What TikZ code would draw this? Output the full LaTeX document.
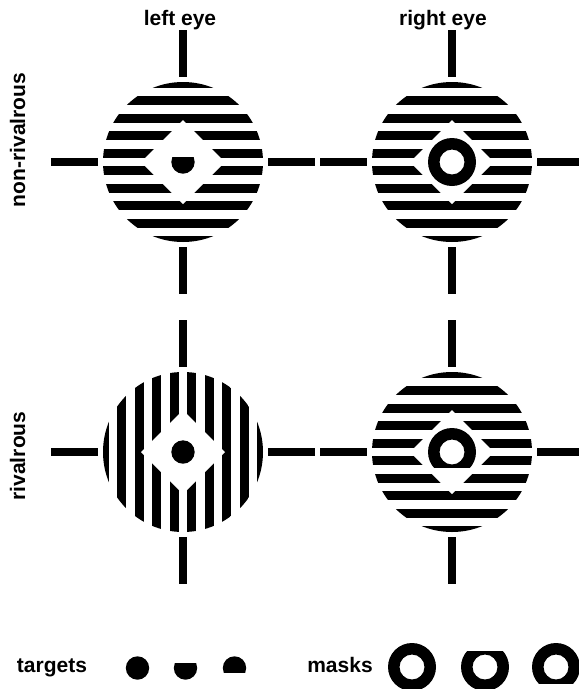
\documentclass[tikz,border=0pt]{standalone}
\usepackage{fontspec}
\setmainfont{Liberation Sans}
\begin{document}
\begin{tikzpicture}[x=1pt, y=1pt,
  lbl/.style={font=\fontsize{21}{25}\selectfont\bfseries, inner sep=0pt, anchor=base},
  pics/grating/.style={code={
    \begin{scope}
      \clip (0,0) circle (80);
      \foreach \k in {-5,...,4}
        \fill[rotate=#1] (-85,{\k*17.5+4.45}) rectangle (85,{\k*17.5+13.05});
    \end{scope}
    \fill[white] (42,0) -- (0,42) -- (-42,0) -- (0,-42) -- cycle;
    \foreach \a in {0,90,180,270}
      \fill[rotate=\a] (85,-4) rectangle (132,4);
  }},
  pics/disk/.style args={#1/#2}{code={
    \clip (-30,#1) rectangle (30,#2);
    \fill (0,0) circle (11.7);
  }},
  pics/ring/.style args={#1/#2}{code={
    \clip (-30,#1) rectangle (30,#2);
    \fill[even odd rule] (0,0) circle (24) (0,0) circle (12.5);
  }}
]
\clip (0,0) rectangle (579,-689);
\foreach \x/\y/\r in {183/-162/0, 452/-162/0, 183/-452/90, 452/-452/0}
  \pic at (\x,\y) {grating=\r};
\pic at (183,-162) {disk=-20/4.5};
\pic at (452,-162) {ring=-30/30};
\pic at (183,-452) {disk=-20/20};
\pic at (452,-452) {ring=-15.7/30};
\node[lbl] (lefteye) at (180,-25) {left eye};
\node[lbl] (righteye) at (443,-25) {right eye};
\node[lbl, rotate=90] (nonriv) at (25,-140) {non-rivalrous};
\node[lbl, rotate=90] (riv) at (25,-456) {rivalrous};
\node[lbl] (targets) at (52,-672) {targets};
\node[lbl] (masks) at (340,-672) {masks};
\foreach \x/\lo/\hi in {137.5/-20/20, 185.5/-20/4.5, 234.5/-4.5/20}
  \pic at (\x,-668) {disk=\lo/\hi};
\foreach \x/\lo/\hi in {412/-30/30, 485/-30/16, 556/-16/30}
  \pic at (\x,-667) {ring=\lo/\hi};
\end{tikzpicture}
\end{document}
